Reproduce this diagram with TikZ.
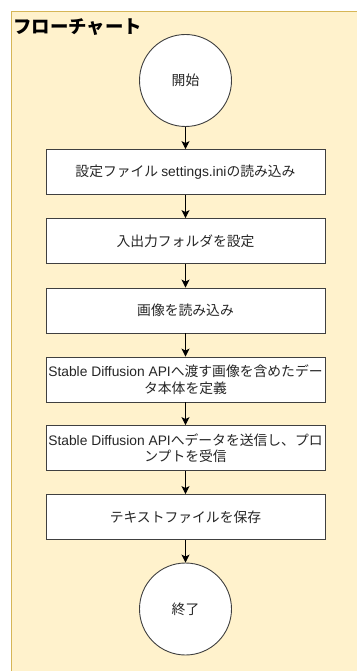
\documentclass[tikz,border=0pt]{standalone}
\usepackage{fontspec}
\setmainfont{Noto Sans CJK JP}
\newfontfamily\lat{Liberation Sans}
\usetikzlibrary{arrows.meta}
\definecolor{contfill}{HTML}{FFF2CC}
\definecolor{contline}{HTML}{D6B656}
\definecolor{txt}{HTML}{262626}
\begin{document}
\begin{tikzpicture}[x=1pt,y=-1pt,
  stepbox/.style={draw=black!75,fill=white,line width=0.9pt,minimum width=279pt,minimum height=45pt,inner sep=0pt,align=center,font=\fontsize{13.8}{16.5}\selectfont,text=txt},
  termnode/.style={draw=black!75,fill=white,circle,line width=0.9pt,minimum size=92pt,inner sep=0pt,font=\fontsize{13.8}{16}\selectfont,text=txt},
  flow/.style={draw=black,line width=0.9pt,-{Stealth[length=8pt,width=8pt,inset=2pt]}}]
\useasboundingbox (0,0) rectangle (356,671);
\fill[white] (0,0) rectangle (356,671);
\draw[contline,fill=contfill,line width=1pt] (11,12) rectangle (370,690);
\node[anchor=west,font=\fontsize{18.4}{20}\selectfont\bfseries,inner sep=0pt] (title) at (13,27.5) {フローチャート};
\node[termnode] (start) at (185.5,80.5) {開始};
\node[stepbox] (s1) at (185.5,172) {設定ファイル {\lat settings.ini}の読み込み};
\node[stepbox] (s2) at (185.5,241) {入出力フォルダを設定};
\node[stepbox] (s3) at (185.5,310.5) {画像を読み込み};
\node[stepbox] (s4) at (185.5,379.5) {{\lat Stable Diffusion API}へ渡す画像を含めたデー\\タ本体を定義};
\node[stepbox] (s5) at (185.5,448) {{\lat Stable Diffusion API}へデータを送信し、プロ\\ンプトを受信};
\node[stepbox] (s6) at (185.5,517) {テキストファイルを保存};
\node[termnode] (end) at (185.5,609) {終了};
\draw[flow] (start) -- (s1);
\draw[flow] (s1) -- (s2);
\draw[flow] (s2) -- (s3);
\draw[flow] (s3) -- (s4);
\draw[flow] (s4) -- (s5);
\draw[flow] (s5) -- (s6);
\draw[flow] (s6) -- (end);
\end{tikzpicture}
\end{document}
